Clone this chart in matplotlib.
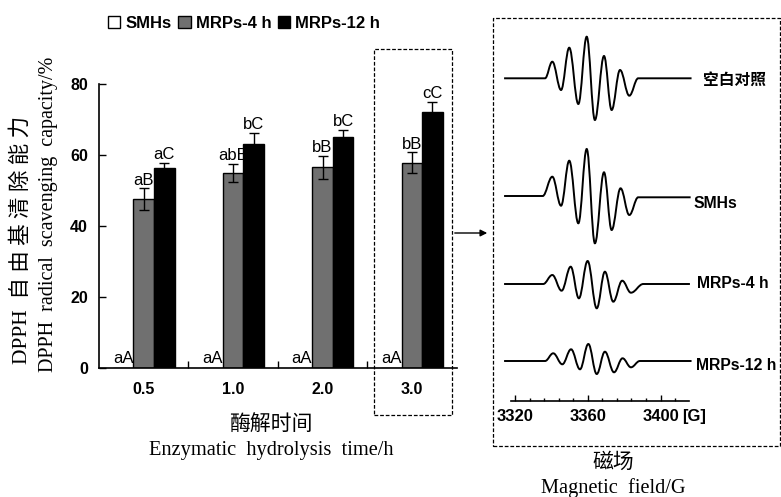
import matplotlib
matplotlib.use('Agg')
import matplotlib.pyplot as plt
from matplotlib.patches import Patch, Rectangle, FancyArrowPatch, PathPatch
from matplotlib.path import Path
from matplotlib.ticker import MultipleLocator, FixedLocator

plt.rcParams['font.family'] = ['Liberation Sans', 'Noto Sans CJK SC']

# DPPH scavenging (%) vs enzymatic hydrolysis time
times = ['0.5', '1.0', '2.0', '3.0']
smhs = [0, 0, 0, 0]
mrp4 = [47.7, 55.1, 56.6, 57.9]
mrp4_err = [3.0, 2.5, 3.3, 2.9]
mrp12 = [56.3, 63.1, 65.2, 72.3]
mrp12_err = [1.5, 3.3, 2.0, 2.8]
lab_smhs = ['aA', 'aA', 'aA', 'aA']
lab_mrp4 = ['aB', 'abB', 'bB', 'bB']
lab_mrp12 = ['aC', 'bC', 'bC', 'cC']

# EPR spectra, turning points (field G, amplitude a.u.)
epr_names = ['空白对照', 'SMHs', 'MRPs-4 h', 'MRPs-12 h']
blank_f = [3314.0, 3336.5, 3340.5, 3345.3, 3349.8, 3354.8, 3359.4, 3363.9,
           3368.9, 3373.1, 3377.7, 3382.8, 3387.7, 3417.0]
blank_a = [0, 0, 16.6, -11.7, 30.6, -25.7, 41.6, -41.7, 22.3, -31.7, 8.3, -17.4, 0, 0]
smhs_f = [3314.0, 3335.2, 3340.5, 3345.3, 3349.8, 3354.8, 3359.4, 3363.9,
          3368.9, 3373.1, 3378.0, 3382.8, 3387.7, 3416.5]
smhs_a = [0, 0, 19.3, -9.7, 35.3, -27.3, 47.0, -47.3, 23.7, -34.0, 7.7, -19.0, -1.3, -1.3]
mrp4_f = [3314.0, 3335.5, 3340.5, 3345.6, 3350.6, 3355.1, 3359.9, 3364.9,
          3369.4, 3374.0, 3378.9, 3383.7, 3390.5, 3416.1]
mrp4_a = [0, 0, 9.0, -6.7, 17.3, -14.3, 23.0, -24.3, 12.3, -17.7, 3.3, -8.7, 0, 0]
mrp12_f = [3314.0, 3336.5, 3341.0, 3346.0, 3350.8, 3355.7, 3360.3, 3364.9,
           3369.4, 3374.4, 3379.1, 3383.7, 3388.6, 3417.0]
mrp12_a = [0, 0, 7.7, -3.3, 11.7, -8.3, 17.0, -13.0, 9.3, -11.3, 2.7, -6.3, 0, 0]

W, H = 781, 497
fig = plt.figure(figsize=(W / 100, H / 100), dpi=100)

def fx(px):
    return px / W

def fy(py):
    return 1 - py / H

def smooth_path(xs, ys, k=0.38):
    # bezier curve through the turning points, flat tangent at each one
    verts = [(xs[0], ys[0])]
    codes = [Path.MOVETO]
    for i in range(1, len(xs)):
        dx = xs[i] - xs[i - 1]
        verts += [(xs[i - 1] + k * dx, ys[i - 1]), (xs[i] - k * dx, ys[i]), (xs[i], ys[i])]
        codes += [Path.CURVE4] * 3
    return Path(verts, codes)

# ---- bar chart ----
ax = fig.add_axes([fx(99), fy(368.3), fx(456.6 - 99), (368.3 - 84.3) / H])
w = 0.23
x = list(range(len(times)))
grey = '#707070'
ax.bar([i - w for i in x], smhs, w, color='white', edgecolor='black', lw=1)
ax.bar(x, mrp4, w, color=grey, edgecolor='black', lw=1)
ax.bar([i + w for i in x], mrp12, w, color='black', edgecolor='black', lw=1)
ax.errorbar(x, mrp4, yerr=mrp4_err, fmt='none', ecolor='black', elinewidth=1, capsize=3.5)
ax.errorbar([i + w for i in x], mrp12, yerr=mrp12_err, fmt='none', ecolor='black',
            elinewidth=1, capsize=3.5)

for i in x:
    ax.annotate(lab_smhs[i], (i - w, smhs[i]), xytext=(0, 2), textcoords='offset points',
                ha='center', va='bottom', fontsize=12)
    ax.annotate(lab_mrp4[i], (i, mrp4[i] + mrp4_err[i]), xytext=(0, 0.5),
                textcoords='offset points', ha='center', va='bottom', fontsize=12)
    ax.annotate(lab_mrp12[i], (i + w, mrp12[i] + mrp12_err[i]), xytext=(0, 0.5),
                textcoords='offset points', ha='center', va='bottom', fontsize=12)

ax.set_xlim(-0.5, 3.5)
ax.set_ylim(0, 80)
ax.set_yticks([0, 20, 40, 60, 80])
ax.set_xticks(x)
ax.set_xticklabels(times)
ax.xaxis.set_minor_locator(FixedLocator([0.5, 1.5, 2.5]))
ax.tick_params(axis='x', which='major', length=0, pad=10)
ax.tick_params(axis='x', which='minor', direction='in', length=5, width=1)
ax.tick_params(axis='y', direction='in', length=5, width=1, pad=8)
for lbl in ax.get_xticklabels() + ax.get_yticklabels():
    lbl.set_fontweight('bold')
    lbl.set_fontsize(11.5)
for s in ['top', 'right']:
    ax.spines[s].set_visible(False)
for s in ['left', 'bottom']:
    ax.spines[s].set_linewidth(1.2)

serif = ['Liberation Serif', 'Noto Sans CJK SC']
fig.text(fx(21), fy(240), 'DPPH  自 由 基 清 除 能 力', rotation=90, ha='center',
         va='center', fontsize=15.5, family=serif)
fig.text(fx(49), fy(214), 'DPPH  radical  scavenging  capacity/%', rotation=90,
         ha='center', va='center', fontsize=14.5, family=serif)
fig.text(fx(271), fy(425), '酶解时间', ha='center', va='center', fontsize=15, family=serif)
fig.text(fx(271), fy(451), 'Enzymatic  hydrolysis  time/h', ha='center', va='center',
         fontsize=14.7, family=serif)

handles = [Patch(facecolor='white', edgecolor='black', label='SMHs'),
           Patch(facecolor=grey, edgecolor='black', label='MRPs-4 h'),
           Patch(facecolor='black', edgecolor='black', label='MRPs-12 h')]
fig.legend(handles=handles, loc='center', bbox_to_anchor=(fx(244), fy(23)), ncol=3,
           frameon=False, prop=dict(weight='bold', size=12), handlelength=0.75,
           handleheight=0.75, handletextpad=0.3, columnspacing=0.4, borderpad=0)

# dashed box round the 3.0 h group and the arrow to the EPR panel
fig.add_artist(Rectangle((fx(374), fy(415)), fx(452 - 374), (415 - 49) / H,
                         transform=fig.transFigure, fill=False, lw=0.9,
                         linestyle=(0, (3, 1.5)), edgecolor='black'))
fig.add_artist(FancyArrowPatch((fx(452), fy(233)), (fx(490), fy(233)),
                               transform=fig.transFigure, arrowstyle='-|>',
                               mutation_scale=10, lw=1, color='black'))
fig.add_artist(Rectangle((fx(492.5), fy(445.7)), fx(779.5 - 492.5), (445.7 - 18.3) / H,
                         transform=fig.transFigure, fill=False, lw=0.9,
                         linestyle=(0, (3, 1.5)), edgecolor='black'))

# ---- EPR panel ----
ax2 = fig.add_axes([fx(511), fy(400.7), fx(689 - 511), (400.7 - 18) / H])
ax2.patch.set_alpha(0)
ax2.set_xlim(3317.8, 3415.6)
ax2.set_ylim(0, 382.7)
baselines = [322.4, 204.7, 116.7, 39.7]
fields = [blank_f, smhs_f, mrp4_f, mrp12_f]
amps = [blank_a, smhs_a, mrp4_a, mrp12_a]
for f, a, b in zip(fields, amps, baselines):
    p = smooth_path(f, [b + v for v in a])
    ax2.add_patch(PathPatch(p, fill=False, lw=1.4, edgecolor='black', clip_on=False))

for s in ['top', 'right', 'left']:
    ax2.spines[s].set_visible(False)
ax2.spines['bottom'].set_linewidth(1.2)
ax2.set_yticks([])
ax2.set_xticks([3320, 3360, 3400])
ax2.set_xticklabels(['3320', '3360', '3400'], fontweight='bold', fontsize=12)
ax2.xaxis.set_minor_locator(MultipleLocator(8))
ax2.tick_params(axis='x', which='major', direction='in', length=4, width=1, pad=6)
ax2.tick_params(axis='x', which='minor', direction='in', length=2, width=1)
fig.text(fx(682), fy(417), '[G]', ha='left', va='center', fontsize=12, fontweight='bold')

label_pos = [(703, 80.7), (694, 203), (697, 283), (696, 365)]
for name, (px, py) in zip(epr_names, label_pos):
    fig.text(fx(px), fy(py), name, ha='left', va='center', fontsize=11.3, fontweight='bold')

fig.text(fx(613), fy(463), '磁场', ha='center', va='center', fontsize=15, family=serif)
fig.text(fx(613), fy(488), 'Magnetic  field/G', ha='center', va='center', fontsize=14.7,
         family=serif)

fig.savefig('out.png', dpi=100)
